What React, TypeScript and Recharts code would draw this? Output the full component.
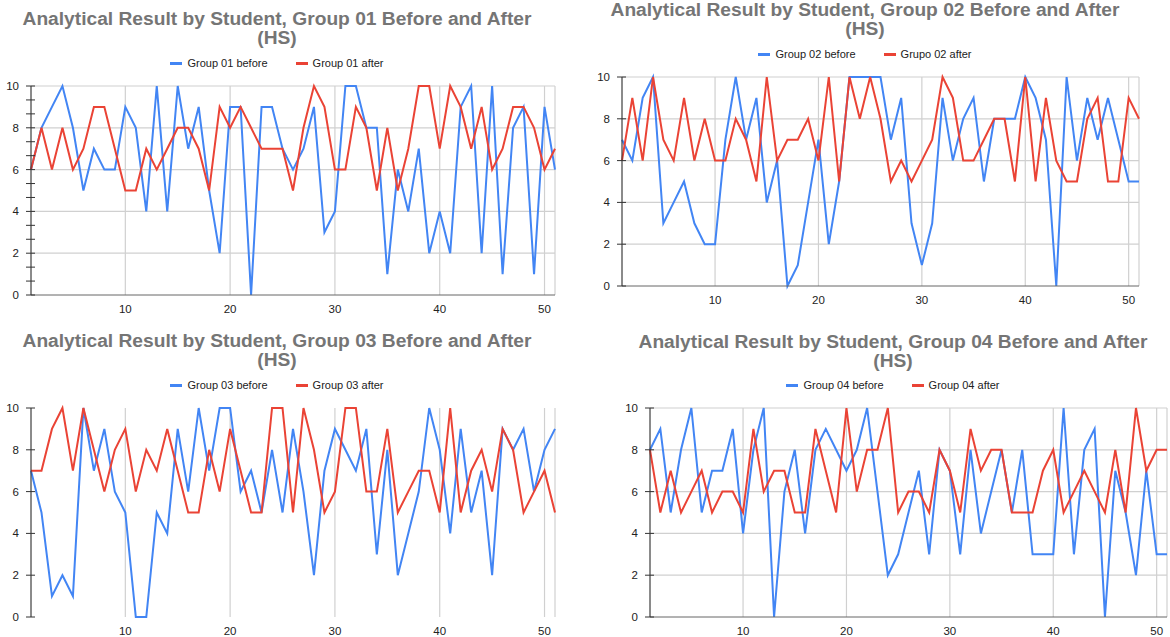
import React from 'react';
import { LineChart, Line, XAxis, YAxis, CartesianGrid, ReferenceLine } from 'recharts';

const students = [
    1, 2, 3, 4, 5, 6, 7, 8, 9, 10, 11, 12, 13, 14, 15, 16, 17, 18, 19, 20, 21, 22, 23, 24, 25,
    26, 27, 28, 29, 30, 31, 32, 33, 34, 35, 36, 37, 38, 39, 40, 41, 42, 43, 44, 45, 46, 47, 48, 49, 50, 51,
];

const group01Before = [6, 8, 9, 10, 8, 5, 7, 6, 6, 9, 8, 4, 10, 4, 10, 7, 9, 5, 2, 9, 9, 0, 9, 9, 7, 6, 7, 9, 3, 4, 10, 10, 8, 8, 1, 6, 4, 7, 2, 4, 2, 9, 10, 2, 10, 1, 8, 9, 1, 9, 6];
const group01After = [6, 8, 6, 8, 6, 7, 9, 9, 7, 5, 5, 7, 6, 7, 8, 8, 7, 5, 9, 8, 9, 8, 7, 7, 7, 5, 8, 10, 9, 6, 6, 9, 8, 5, 8, 5, 7, 10, 10, 7, 10, 9, 7, 9, 6, 7, 9, 9, 8, 6, 7];

const group02Before = [7, 6, 9, 10, 3, 4, 5, 3, 2, 2, 7, 10, 7, 9, 4, 6, 0, 1, 4, 7, 2, 5, 10, 10, 10, 10, 7, 9, 3, 1, 3, 9, 6, 8, 9, 5, 8, 8, 8, 10, 9, 7, 0, 10, 6, 9, 7, 9, 7, 5, 5];
const group02After = [6, 9, 6, 10, 7, 6, 9, 6, 8, 6, 6, 8, 7, 5, 10, 6, 7, 7, 8, 6, 10, 5, 10, 8, 10, 8, 5, 6, 5, 6, 7, 10, 9, 6, 6, 7, 8, 8, 5, 10, 5, 9, 6, 5, 5, 8, 9, 5, 5, 9, 8];

const group03Before = [7, 5, 1, 2, 1, 10, 7, 9, 6, 5, 0, 0, 5, 4, 9, 6, 10, 7, 10, 10, 6, 7, 5, 8, 5, 9, 6, 2, 7, 9, 8, 7, 9, 3, 8, 2, 4, 6, 10, 8, 4, 9, 5, 7, 2, 9, 8, 9, 6, 8, 9];
const group03After = [7, 7, 9, 10, 7, 10, 8, 6, 8, 9, 6, 8, 7, 9, 7, 5, 5, 8, 6, 9, 7, 5, 5, 10, 10, 5, 10, 8, 5, 6, 10, 10, 6, 6, 9, 5, 6, 7, 7, 5, 10, 5, 7, 8, 6, 9, 8, 5, 6, 7, 5];

const group04Before = [8, 9, 5, 8, 10, 5, 7, 7, 9, 4, 8, 10, 0, 6, 8, 4, 8, 9, 8, 7, 8, 10, 6, 2, 3, 5, 7, 3, 8, 7, 3, 8, 4, 6, 8, 5, 8, 3, 3, 3, 10, 3, 8, 9, 0, 7, 5, 2, 7, 3, 3];
const group04After = [8, 5, 7, 5, 6, 7, 5, 6, 6, 5, 9, 6, 7, 7, 5, 5, 9, 7, 5, 10, 6, 8, 8, 10, 5, 6, 6, 5, 8, 7, 5, 9, 7, 8, 8, 5, 5, 5, 7, 8, 5, 6, 7, 6, 5, 8, 5, 10, 7, 8, 8];

const yTicks = [0, 2, 4, 6, 8, 10];
const xTicks = [10, 20, 30, 40, 50];
// first chart has extra little ticks in between (thirds of the 2-step)
const yMinorTicks = yTicks.flatMap(v => (v < 10 ? [v, v + 2 / 3, v + 4 / 3] : [v]));

const BLUE = '#4285F4';
const RED = '#EA4335';
const FONT = '"Liberation Sans", Arial, sans-serif';

const YTick = ({ x, y, payload }: any) => {
    const v = payload.value;
    const showLabel = Number.isInteger(v) && v % 2 === 0;
    return (
        <g>
            <line x1={x - 5} x2={x + 4} y1={y} y2={y} stroke="#333" strokeWidth={1} />
            {showLabel && (
                <text x={x - 12} y={y} textAnchor="end" dominantBaseline="central" fontSize={11.5} fill="#222" fontFamily={FONT}>
                    {v}
                </text>
            )}
        </g>
    );
};

interface PanelProps {
    title: string;
    beforeLabel: string;
    afterLabel: string;
    before: number[];
    after: number[];
    left: number;
    top: number;
    width: number;
    height: number;
    margin: { top: number; right: number; left: number; bottom: number };
    yAxisWidth: number;
    centerX: number;
    titleTop: number;
    legendTop: number;
    hGrid: boolean;
    minorTicks: boolean;
    xAxisLine: boolean;
}

function Panel(p: PanelProps) {
    const data = students.map((s, i) => ({ student: s, before: p.before[i], after: p.after[i] }));
    const titleStyle: React.CSSProperties = {
        position: 'absolute',
        left: p.centerX - 320,
        width: 640,
        height: 18,
        textAlign: 'center',
        fontFamily: FONT,
        fontWeight: 'bold',
        fontSize: 19.2,
        lineHeight: '18px',
        color: '#757575',
        whiteSpace: 'nowrap',
    };
    return (
        <>
            <LineChart
                width={p.width}
                height={p.height}
                data={data}
                margin={p.margin}
                style={{ position: 'absolute', left: p.left, top: p.top }}
            >
                <CartesianGrid horizontal={false} stroke="#d0d0d0" strokeWidth={1.2} />
                {p.hGrid && yTicks.slice(1).map(v => (
                    <ReferenceLine key={v} y={v} stroke="#d0d0d0" strokeWidth={1.2} />
                ))}
                <XAxis
                    dataKey="student"
                    type="number"
                    domain={[1, 51]}
                    ticks={xTicks}
                    tickLine={false}
                    axisLine={p.xAxisLine ? { stroke: '#666' } : false}
                    height={25}
                    tick={{ fontSize: 11.5, fill: '#222', fontFamily: FONT }}
                    tickMargin={4}
                />
                <YAxis
                    type="number"
                    domain={[0, 10]}
                    ticks={p.minorTicks ? yMinorTicks : yTicks}
                    width={p.yAxisWidth}
                    tickLine={false}
                    tickSize={0}
                    tickMargin={0}
                    axisLine={{ stroke: '#333' }}
                    tick={<YTick />}
                    interval={0}
                />
                <Line type="linear" dataKey="before" stroke={BLUE} strokeWidth={2} dot={false} isAnimationActive={false} />
                <Line type="linear" dataKey="after" stroke={RED} strokeWidth={2} dot={false} isAnimationActive={false} />
            </LineChart>
            <div style={{ ...titleStyle, top: p.titleTop }}>{p.title}</div>
            <div style={{ ...titleStyle, top: p.titleTop + 19 }}>(HS)</div>
            <div
                style={{
                    position: 'absolute',
                    left: p.centerX - 200,
                    width: 400,
                    top: p.legendTop,
                    height: 14,
                    display: 'flex',
                    justifyContent: 'center',
                    alignItems: 'center',
                    gap: 28,
                    fontFamily: FONT,
                    fontSize: 11,
                    color: '#222',
                }}
            >
                {[
                    { label: p.beforeLabel, color: BLUE },
                    { label: p.afterLabel, color: RED },
                ].map(item => (
                    <div key={item.label} style={{ display: 'flex', alignItems: 'center' }}>
                        <span style={{ display: 'inline-block', width: 12, height: 3, background: item.color, marginRight: 5 }} />
                        <span>{item.label}</span>
                    </div>
                ))}
            </div>
        </>
    );
}

export default function App() {
    return (
        <div style={{ position: 'absolute', left: 0, top: 0, width: 1170, height: 637, background: '#fff', overflow: 'hidden' }}>
            <Panel
                title="Analytical Result by Student, Group 01 Before and After"
                beforeLabel="Group 01 before"
                afterLabel="Group 01 after"
                before={group01Before}
                after={group01After}
                left={0}
                top={0}
                width={570}
                height={320}
                margin={{ top: 86, right: 15, left: 0, bottom: 0 }}
                yAxisWidth={31}
                centerX={277}
                titleTop={10}
                legendTop={56}
                hGrid
                minorTicks
                xAxisLine
            />
            <Panel
                title="Analytical Result by Student, Group 02 Before and After"
                beforeLabel="Group 02 before"
                afterLabel="Grupo 02 after"
                before={group02Before}
                after={group02After}
                left={590}
                top={0}
                width={580}
                height={311}
                margin={{ top: 77, right: 31, left: 0, bottom: 0 }}
                yAxisWidth={32}
                centerX={865}
                titleTop={1}
                legendTop={47}
                hGrid
                minorTicks={false}
                xAxisLine
            />
            <Panel
                title="Analytical Result by Student, Group 03 Before and After"
                beforeLabel="Group 03 before"
                afterLabel="Group 03 after"
                before={group03Before}
                after={group03After}
                left={0}
                top={330}
                width={570}
                height={312}
                margin={{ top: 78, right: 15, left: 0, bottom: 0 }}
                yAxisWidth={31}
                centerX={277}
                titleTop={332}
                legendTop={378}
                hGrid={false}
                minorTicks={false}
                xAxisLine={false}
            />
            <Panel
                title="Analytical Result by Student, Group 04 Before and After"
                beforeLabel="Group 04 before"
                afterLabel="Group 04 after"
                before={group04Before}
                after={group04After}
                left={600}
                top={330}
                width={570}
                height={312}
                margin={{ top: 78, right: 3, left: 0, bottom: 0 }}
                yAxisWidth={50}
                centerX={893}
                titleTop={333}
                legendTop={378}
                hGrid
                minorTicks={false}
                xAxisLine
            />
        </div>
    );
}
